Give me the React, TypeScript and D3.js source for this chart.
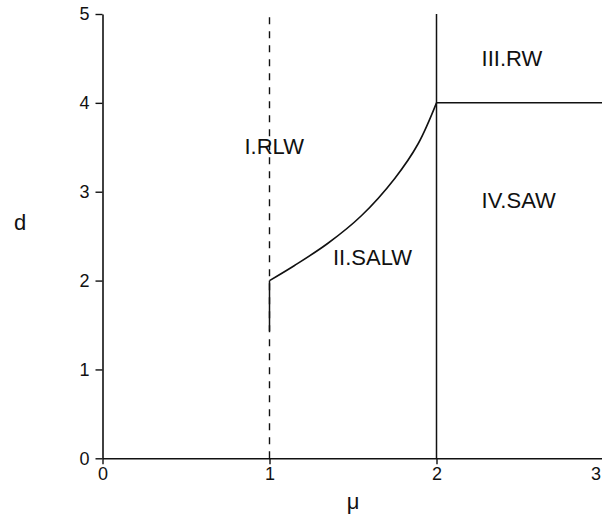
import React, {useEffect, useRef} from 'react'
import * as d3 from 'd3'

// tick values
const xTicks = [0, 1, 2, 3]
const yTicks = [0, 1, 2, 3, 4, 5]

// SALW boundary (mu, d)
const curveMu = [1, 1.15, 1.35, 1.55, 1.75, 1.89, 2]
const curveD = [2, 2.17, 2.42, 2.73, 3.15, 3.54, 4]

// region labels
const regionNames = ['I.RLW', 'II.SALW', 'III.RW', 'IV.SAW']
const regionMu = [0.85, 1.38, 2.27, 2.27]
const regionD = [3.43, 2.17, 4.42, 2.82]

// boundary lines
const dashedMu = 1
const solidMu = 2
const rwLevel = 4
const solidPieceD = [1.43, 2]

const App = () => {
	const ref = useRef<SVGSVGElement>(null)

	useEffect(() => {
		const svg = d3.select(ref.current)
		svg.selectAll('*').remove()

		const font = '"Liberation Sans", Arial, sans-serif'
		const ink = '#111'

		const x = d3.scaleLinear().domain([0, 3]).range([102.5, 603.5])
		const y = d3.scaleLinear().domain([0, 5]).range([458.3, 14])

		// axes
		const xAxis = d3.axisBottom(x).tickValues(xTicks).tickFormat(d3.format('d'))
			.tickSize(6).tickSizeOuter(0).tickPadding(3)
		const yAxis = d3.axisLeft(y).tickValues(yTicks).tickFormat(d3.format('d'))
			.tickSize(7).tickSizeOuter(0).tickPadding(6)

		const gx = svg.append('g').attr('transform', `translate(0,${y(0)})`).call(xAxis)
		const gy = svg.append('g').attr('transform', `translate(${x(0)},0)`).call(yAxis)

		for (const g of [gx, gy]) {
			g.select('.domain').attr('stroke', ink).attr('stroke-width', 1.6)
			g.selectAll('.tick line').attr('stroke', ink).attr('stroke-width', 1.4)
			g.selectAll('.tick text')
				.attr('fill', ink)
				.style('font-family', font)
				.style('font-size', '18px')
		}

		// last x label sits on the page edge: keep it inside
		gx.selectAll('.tick text')
			.filter(d => d === 3)
			.attr('text-anchor', 'end')
			.attr('dx', -3)

		// dashed line at mu = 1
		svg.append('line')
			.attr('x1', x(dashedMu)).attr('x2', x(dashedMu))
			.attr('y1', y(0)).attr('y2', y(5))
			.attr('stroke', ink).attr('stroke-width', 1.4)
			.attr('stroke-dasharray', '7,7')

		// short solid piece under the curve start
		svg.append('line')
			.attr('x1', x(dashedMu)).attr('x2', x(dashedMu))
			.attr('y1', y(solidPieceD[0])).attr('y2', y(solidPieceD[1]))
			.attr('stroke', ink).attr('stroke-width', 1.5)

		// solid line at mu = 2
		svg.append('line')
			.attr('x1', x(solidMu)).attr('x2', x(solidMu))
			.attr('y1', y(0)).attr('y2', y(5))
			.attr('stroke', ink).attr('stroke-width', 1.5)

		// d = 4 line from mu = 2 to the right
		svg.append('line')
			.attr('x1', x(solidMu)).attr('x2', x(3))
			.attr('y1', y(rwLevel)).attr('y2', y(rwLevel))
			.attr('stroke', ink).attr('stroke-width', 1.5)

		// SALW curve
		const pts: [number, number][] = curveMu.map((m, i) => [m, curveD[i]])
		const line = d3.line<[number, number]>()
			.x(d => x(d[0]))
			.y(d => y(d[1]))
			.curve(d3.curveCatmullRom.alpha(0.5))

		svg.append('path')
			.attr('d', line(pts))
			.attr('fill', 'none')
			.attr('stroke', ink)
			.attr('stroke-width', 1.6)

		// region labels
		svg.selectAll('text.region')
			.data(regionNames)
			.enter()
			.append('text')
			.attr('class', 'region')
			.attr('x', (d, i) => x(regionMu[i]))
			.attr('y', (d, i) => y(regionD[i]))
			.attr('fill', ink)
			.style('font-family', font)
			.style('font-size', '22px')
			.text(d => d)

		// axis titles
		svg.append('text')
			.attr('x', 20).attr('y', 230)
			.attr('text-anchor', 'middle')
			.attr('fill', ink)
			.style('font-family', font)
			.style('font-size', '22px')
			.text('d')

		svg.append('text')
			.attr('x', x(1.5)).attr('y', 509)
			.attr('text-anchor', 'middle')
			.attr('fill', ink)
			.style('font-family', font)
			.style('font-size', '22px')
			.text('μ')
	}, [])

	return (
		<svg ref={ref} width={602} height={518}
			style={{position: 'absolute', left: 0, top: 0, background: '#fff'}} />
	)
}

export default App
